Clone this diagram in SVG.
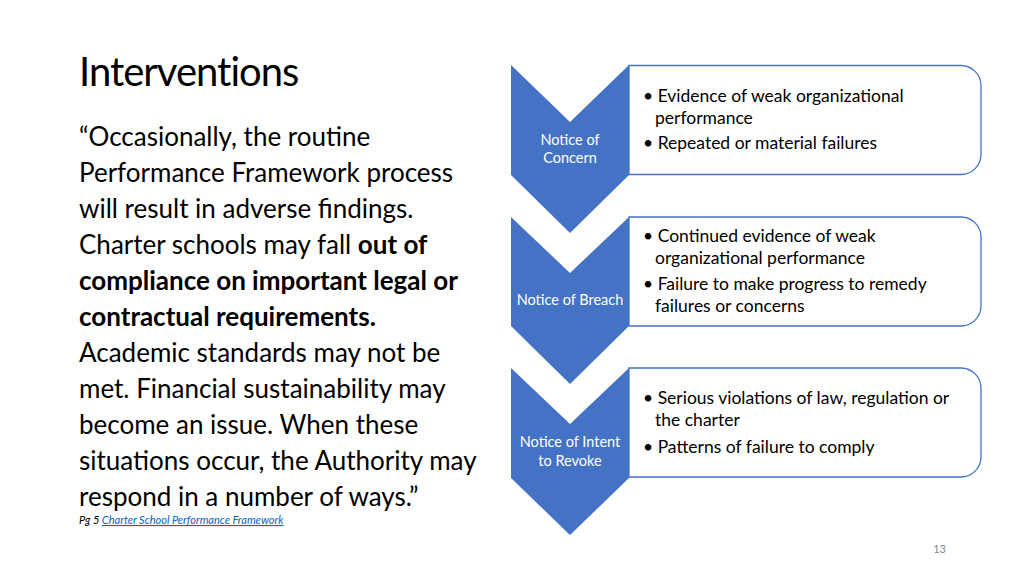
<svg xmlns="http://www.w3.org/2000/svg" width="1024" height="576" viewBox="0 0 1024 576">
<style>
text{font-family:Lato,"Open Sans",sans-serif}
.t{font-size:40px;fill:#000}
.b{font-size:26px;fill:#000}
.bb{font-weight:bold}
.c{fill:#4472C4}
.cl{font-size:14.5px;fill:#fff;text-anchor:middle}
.box{fill:#fff;stroke:#4472C4;stroke-width:1.3}
.li{font-size:17.5px;fill:#000}
</style>
<rect width="1024" height="576" fill="#fff"/>
<text class="t" x="79" y="86" letter-spacing="-1">Interventions</text>
<g class="b">
<text x="79" y="146">“Occasionally, the routine</text>
<text x="79" y="182">Performance Framework process</text>
<text x="79" y="218">will result in adverse findings.</text>
<text x="79" y="254">Charter schools may fall <tspan class="bb">out of</tspan></text>
<text x="79" y="290" class="bb">compliance on important legal or</text>
<text x="79" y="326" class="bb">contractual requirements.</text>
<text x="79" y="362">Academic standards may not be</text>
<text x="79" y="398">met. Financial sustainability may</text>
<text x="79" y="434">become an issue. When these</text>
<text x="79" y="470">situations occur, the Authority may</text>
<text x="79" y="506">respond in a number of ways.”</text>
</g>
<text x="79" y="524" font-size="11" font-style="italic">Pg 5 <tspan fill="#0563C1" text-decoration="underline">Charter School Performance Framework</tspan></text>
<text x="946" y="553" font-size="11" fill="#888" text-anchor="end">13</text>
<g id="step1">
<path class="box" d="M629 65.5H961a20 20 0 0 1 20 20V154.5a20 20 0 0 1-20 20H629Z"/>
<polygon class="c" points="511,65 570,122 629,65 629,175 570,233 511,175"/>
<text class="cl" x="570" y="145">Notice of</text><text class="cl" x="570" y="163">Concern</text>
<text class="li" x="643" y="102">• Evidence of weak organizational</text>
<text class="li" x="655" y="124">performance</text>
<text class="li" x="643" y="149">• Repeated or material failures</text>
</g>
<g id="step2">
<path class="box" d="M629 217H961a20 20 0 0 1 20 20V306a20 20 0 0 1-20 20H629Z"/>
<polygon class="c" points="511,217 570,273 629,217 629,326 570,384 511,326"/>
<text class="cl" x="570" y="305">Notice of Breach</text>
<text class="li" x="643" y="242">• Continued evidence of weak</text>
<text class="li" x="655" y="264">organizational performance</text>
<text class="li" x="643" y="290">• Failure to make progress to remedy</text>
<text class="li" x="655" y="312">failures or concerns</text>
</g>
<g id="step3">
<path class="box" d="M629 368H961a20 20 0 0 1 20 20V457a20 20 0 0 1-20 20H629Z"/>
<polygon class="c" points="511,368 570,424 629,368 629,478 570,535 511,478"/>
<text class="cl" x="570" y="447">Notice of Intent</text><text class="cl" x="570" y="466">to Revoke</text>
<text class="li" x="643" y="404">• Serious violations of law, regulation or</text>
<text class="li" x="655" y="426">the charter</text>
<text class="li" x="643" y="453">• Patterns of failure to comply</text>
</g>
<g id="connectors"/>
</svg>
